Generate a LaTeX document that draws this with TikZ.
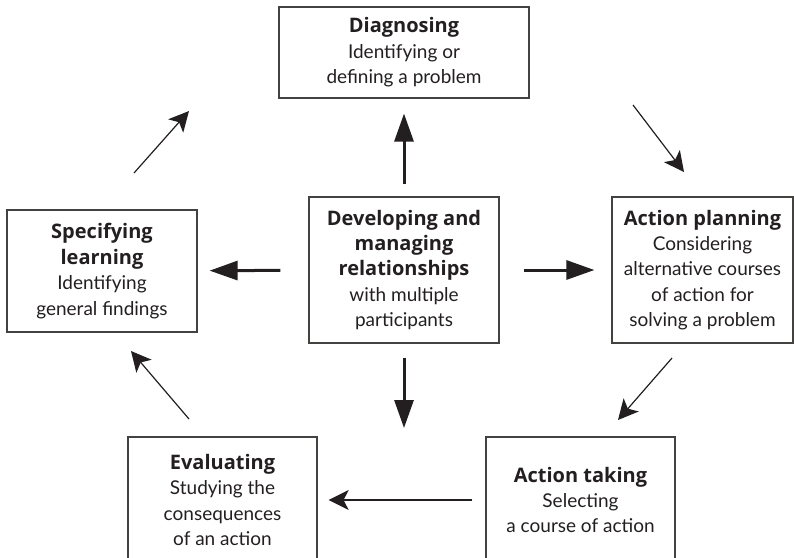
\documentclass[tikz,border=0pt]{standalone}
\usepackage{fontspec}
\setmainfont{Lato}
\newfontfamily\headfont{Open Sans}
\newcommand\stagehead[1]{{\headfont\bfseries\fontsize{20}{25.4}\selectfont #1}}
\usetikzlibrary{
  arrows.meta
}
\definecolor{ink}{HTML}{231F20}

\begin{document}
\begin{tikzpicture}[x=1pt, y=-1pt,
  every node/.style = {shape=rectangle, draw=ink!85, line width=1.2pt,
    align=center, inner sep=0pt, text=ink,
    font=\fontsize{19}{25.4}\selectfont},
  bigarrow/.style = {draw=ink, line width=3pt,
    -{Triangle[length=28pt, width=19pt]}},
  smallarrow/.style = {draw=ink, line width=1.2pt,
    -{Stealth[length=20pt, width=20pt, inset=5pt]}}]
  \useasboundingbox (0,0) rectangle (794,557);
  \node[minimum width=250pt, minimum height=91pt] (diag) at (404,52.5)
    {\stagehead{Diagnosing}\\Identifying or\\defining a problem};
  \node[minimum width=190pt, minimum height=122pt] (spec) at (102,271)
    {\stagehead{Specifying}\\\stagehead{learning}\\Identifying\\general findings};
  \node[minimum width=190pt, minimum height=146pt] (hub) at (404,270)
    {\stagehead{Developing and}\\\stagehead{managing}\\\stagehead{relationships}\\with multiple\\participants};
  \node[minimum width=181pt, minimum height=146pt] (plan) at (702.5,270)
    {\stagehead{Action planning}\\Considering\\alternative courses\\of action for\\solving a problem};
  \node[minimum width=189pt, minimum height=126pt] (eval) at (222.5,500)
    {\stagehead{Evaluating}\\Studying the\\consequences\\of an action};
  \node[minimum width=189pt, minimum height=126pt] (take) at (580.5,500)
    {\stagehead{Action taking}\\Selecting\\a course of action};
  \coordinate (drop) at (404,428);
  \coordinate (s1) at (134,173);
  \coordinate (s2) at (189,111);
  \coordinate (d1) at (633,105);
  \coordinate (d2) at (684,172);
  \coordinate (p1) at (672,358);
  \coordinate (p2) at (618,420);
  \coordinate (e1) at (189,419);
  \coordinate (e2) at (131,351);
  \draw[bigarrow, shorten <=12pt, shorten >=15pt] (hub) -- (diag);
  \draw[bigarrow, shorten <=28pt, shorten >=12pt] (hub) -- (spec);
  \draw[bigarrow, shorten <=24pt, shorten >=17pt] (hub) -- (plan);
  \draw[bigarrow, shorten <=14pt] (hub) -- (drop);
  \draw[smallarrow] (s1) -- (s2);
  \draw[smallarrow] (d1) -- (d2);
  \draw[smallarrow] (p1) -- (p2);
  \draw[smallarrow, shorten <=13pt, shorten >=11pt] (take) -- (eval);
  \draw[smallarrow] (e1) -- (e2);
\end{tikzpicture}
\end{document}
